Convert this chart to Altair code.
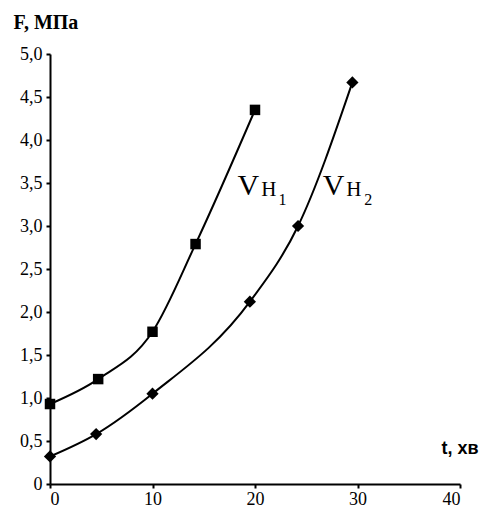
import altair as alt
import pandas as pd

# Series Vн1 (squares)
t1 = [0, 4.7, 10, 14.2, 20]
f1 = [0.93, 1.22, 1.77, 2.79, 4.35]
# Series Vн2 (diamonds)
t2 = [0, 4.5, 10, 19.5, 24.2, 29.5]
f2 = [0.32, 0.58, 1.05, 2.12, 3.0, 4.67]

x_ticks = [0, 10, 20, 30, 40]
y_ticks = [0, 0.5, 1.0, 1.5, 2.0, 2.5, 3.0, 3.5, 4.0, 4.5, 5.0]

# Curve labels: "V" + "Н" + subscript digit
lab_text = ["V", "Н", "1", "V", "Н", "2"]
lab_t = [18.3, 20.6, 22.3, 26.6, 28.9, 30.65]
lab_f = [3.36, 3.35, 3.25, 3.36, 3.35, 3.25]
lab_size = [30, 21, 16, 30, 21, 16]

d1 = pd.DataFrame({"t": t1, "F": f1})
d2 = pd.DataFrame({"t": t2, "F": f2})
dl = pd.DataFrame({"text": lab_text, "t": lab_t, "F": lab_f, "size": lab_size})

SERIF = "Liberation Serif"

xs = alt.Scale(domain=[0, 40], nice=False)
ys = alt.Scale(domain=[0, 5], nice=False)

xax = alt.Axis(values=x_ticks, title="t, хв", titleFont="Liberation Sans",
               titleFontWeight="bold", titleFontSize=18, titleX=391, titleY=-31,
               titleAlign="left", titleBaseline="alphabetic", titleAngle=0, labelPadding=2)
yax = alt.Axis(values=y_ticks, title="F, МПа", titleFont=SERIF, titleFontWeight="bold",
               titleFontSize=20, titleX=-37, titleY=-26, titleAlign="left",
               titleBaseline="alphabetic", titleAngle=0, labelPadding=4,
               labelExpr="datum.value == 0 ? '0' : replace(format(datum.value, '.1f'), '.', ',')")

base_x = alt.X("t:Q", scale=xs, axis=xax)
base_y = alt.Y("F:Q", scale=ys, axis=yax)

line1 = alt.Chart(d1).mark_line(interpolate="monotone", color="black", strokeWidth=2).encode(x=base_x, y=base_y)
pts1 = alt.Chart(d1).mark_point(shape="square", filled=True, color="black", size=110, opacity=1).encode(x="t:Q", y="F:Q")
line2 = alt.Chart(d2).mark_line(interpolate="monotone", color="black", strokeWidth=2).encode(x="t:Q", y="F:Q")
pts2 = alt.Chart(d2).mark_point(shape="diamond", filled=True, color="black", size=150, opacity=1).encode(x="t:Q", y="F:Q")
labels = alt.Chart(dl).mark_text(font=SERIF, color="black", align="left",
                                 baseline="alphabetic").encode(
    x="t:Q", y="F:Q", text="text:N", size=alt.Size("size:Q", scale=None, legend=None))

chart = alt.layer(line1, pts1, line2, pts2, labels).properties(
    width=410, height=430,
    autosize=alt.AutoSizeParams(type="none"),
    padding={"left": 42, "top": 46, "right": 26, "bottom": 30},
    background="white",
).configure_view(stroke=None).configure_axis(
    grid=False, domainColor="black", domainWidth=2, tickColor="black", tickWidth=2,
    tickSize=4, labelFont=SERIF, labelFontSize=18, labelColor="black", titleColor="black",
)

chart.save("out.html", embed_options={"renderer": "svg", "actions": False})
